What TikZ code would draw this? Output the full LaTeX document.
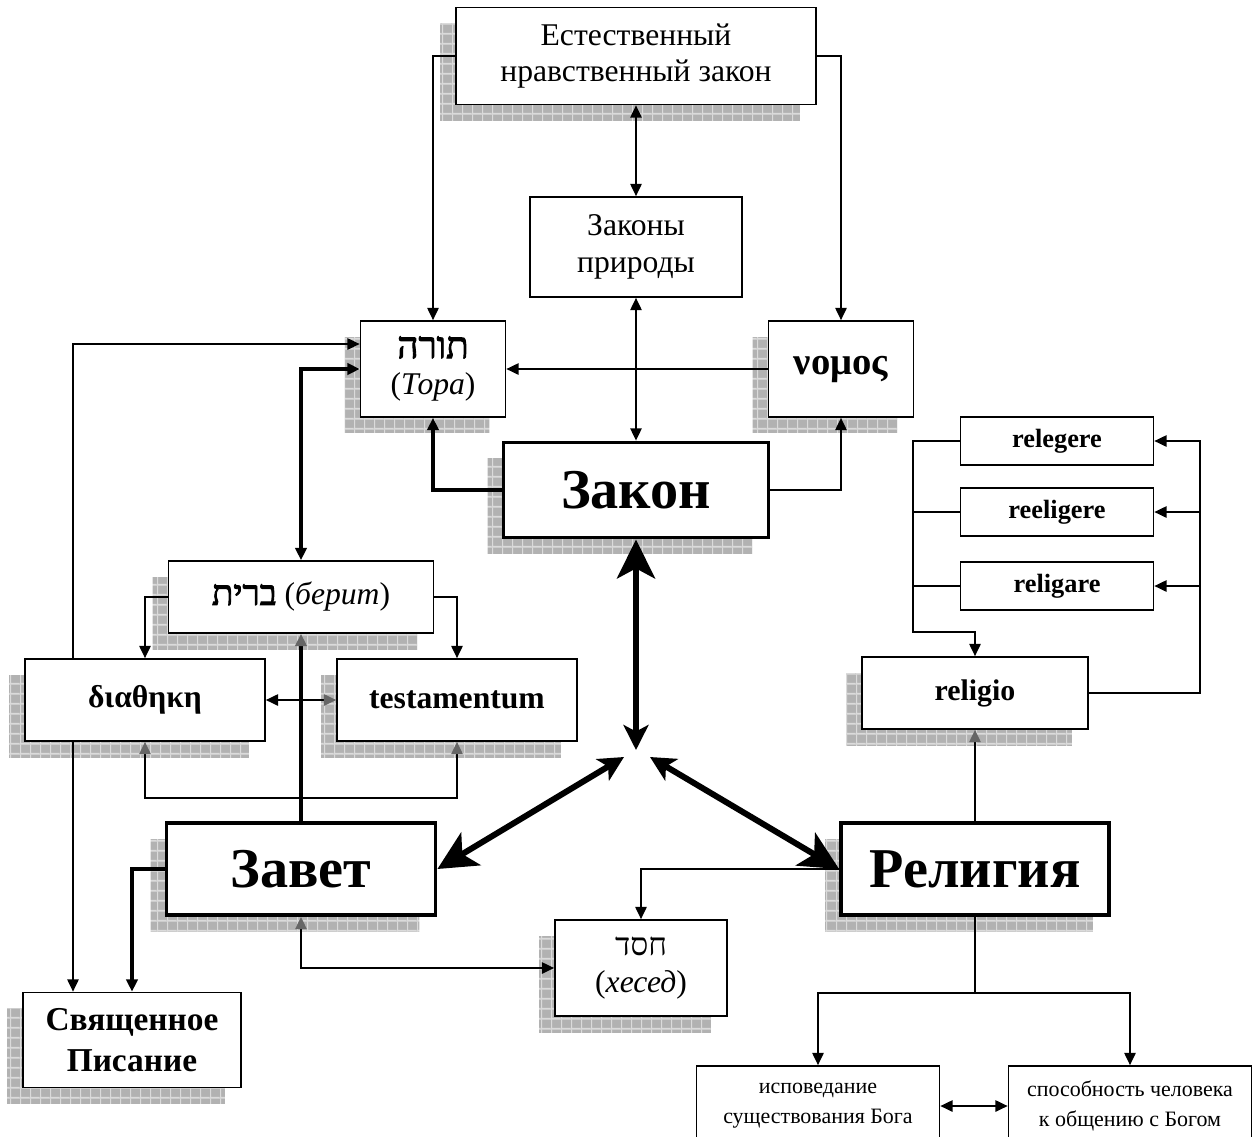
\documentclass[tikz,border=0pt]{standalone}
\usepackage{fontspec}
\setmainfont{Liberation Serif}
\newfontfamily\hebfont[Script=Hebrew]{Liberation Serif}
\newfontfamily\hebboldfont[Script=Hebrew,FakeBold=2.5]{Liberation Serif}
\TeXXeTstate=1
\usetikzlibrary{arrows.meta,shadows,patterns.meta,calc}

\newcommand{\hebtxt}[1]{{\hebfont\beginR #1\endR}}
\newcommand{\hebbold}[1]{{\hebboldfont\beginR #1\endR}}

\tikzdeclarepattern{
  name=shgrid,
  type=colored,
  bounding box={(0,0) and (5.6pt,5.6pt)},
  tile size={(5.6pt,5.6pt)},
  code={
    \fill[black!30] (0,0) rectangle (5.6pt,5.6pt);
    \draw[black!14,line width=0.6pt] (0,0.3pt) -- (5.6pt,0.3pt) (0.3pt,0) -- (0.3pt,5.6pt);
  }
}

\tikzset{
  >={Triangle[length=7pt,width=6.5pt]},
  gtip/.tip={Triangle[length=7pt,width=6.5pt,color=black!60]},
  bigtip/.tip={Stealth[length=0.78cm,width=0.76cm,inset=0.2cm]},
  smalltip/.tip={Stealth[length=0.5cm,width=0.5cm,inset=0.13cm]},
  box/.style={draw,line width=1pt,fill=white,align=center,inner sep=1pt,
    font=\fontsize{18}{21}\selectfont},
  shbox/.style={box,general shadow={shadow xshift=-0.32cm,shadow yshift=-0.32cm,pattern=shgrid}},
  mainbox/.style={shbox,line width=2.2pt,font=\fontsize{32}{36}\selectfont\bfseries},
  latbox/.style={box,font=\fontsize{15}{18}\selectfont\bfseries},
  conn/.style={line width=0.9pt},
  thickconn/.style={line width=2pt},
  bigarrow/.style={line width=3.4pt},
}

\begin{document}
\begin{tikzpicture}[x=0.02cm,y=-0.02cm]
\useasboundingbox (0,0) rectangle (1259,1137);

% upper part
\node[shbox,minimum width=7.2cm,minimum height=1.94cm] (natlaw) at (636,56)
  {Естественный\\нравственный закон};
\node[box,minimum width=4.24cm,minimum height=2cm] (natlaws) at (636,247)
  {Законы\\природы};
\node[shbox,minimum width=2.9cm,minimum height=1.92cm] (tora) at (433,369)
  {{\fontsize{21}{21}\selectfont\hebbold{תורה}}\\(\textit{Тора})};
\node[shbox,minimum width=2.9cm,minimum height=1.92cm,font=\fontsize{22}{26}\selectfont\bfseries]
  (nomos) at (841,369) {νομος};
\node[mainbox,minimum width=5.3cm,minimum height=1.9cm] (zakon) at (636,490) {Закон};

% religio group
\node[latbox,minimum width=3.86cm,minimum height=0.96cm] (relegere) at (1057,441) {relegere};
\node[latbox,minimum width=3.86cm,minimum height=0.96cm] (reeligere) at (1057,512) {reeligere};
\node[latbox,minimum width=3.86cm,minimum height=0.96cm] (religare) at (1057,586) {religare};
\node[shbox,minimum width=4.52cm,minimum height=1.44cm,font=\fontsize{17}{20}\selectfont\bfseries]
  (religio) at (975,693) {religio};

% covenant group
\node[shbox,minimum width=5.3cm,minimum height=1.44cm] (berit) at (301,597)
  {{\fontsize{20}{21}\selectfont\hebbold{ברית}} (\textit{берит})};
\node[shbox,minimum width=4.8cm,minimum height=1.64cm,font=\fontsize{18}{21}\selectfont\bfseries]
  (diatheke) at (145,700) {διαθηκη};
\node[shbox,minimum width=4.8cm,minimum height=1.64cm,font=\fontsize{18}{21}\selectfont\bfseries]
  (testament) at (457,700) {testamentum};
\node[mainbox,minimum width=5.38cm,minimum height=1.84cm] (zavet) at (301,869) {Завет};
\node[mainbox,minimum width=5.36cm,minimum height=1.84cm] (religia) at (975,869) {Религия};
\node[shbox,minimum width=3.44cm,minimum height=1.92cm] (hesed) at (641,968)
  {\hebtxt{חסד}\\(\textit{хесед})};
\node[shbox,minimum width=4.36cm,minimum height=1.9cm,font=\fontsize{19}{23}\selectfont\bfseries]
  (pisanie) at (132,1040) {Священное\\Писание};
\node[box,minimum width=4.86cm,minimum height=1.6cm,font=\fontsize{12.5}{17}\selectfont]
  (ispoved) at (818,1106) {исповедание\\существования Бога};
\node[box,minimum width=4.86cm,minimum height=1.6cm,font=\fontsize{12.5}{17}\selectfont]
  (sposob) at (1130,1106) {способность человека\\к общению с Богом};

% helper points
\coordinate (hubN) at (636,750);
\coordinate (hubL) at (624,757);
\coordinate (hubR) at (650,757);
\coordinate (rbus) at (1200,441);
\coordinate (lbus) at (913,632);
\coordinate (rjoin) at (975,993);
\coordinate (dleft) at ($(diatheke.south)+(-72,0)$);
\coordinate (dleftup) at ($(diatheke.north)+(-72,0)$);

% connectors, top
\draw[conn,->] (natlaw.west) -| (tora.north);
\draw[conn,->] (natlaw.east) -| (nomos.north);
\draw[conn,<->] (natlaw.south) -- (natlaws.north);
\draw[conn,<->] (natlaws.south) -- (zakon.north);
\draw[conn,->] (nomos.west) -- (tora.east);
\draw[thickconn,->] (zakon.west) -| (tora.south);
\draw[conn,->] (zakon.east) -| (nomos.south);

% connectors, left
\draw[conn,->] (dleftup) |- ($(tora.west)+(0,-25)$);
\draw[thickconn,<->] (berit.north) |- (tora.west);
\draw[conn,->] (berit.west) -| (diatheke.north);
\draw[conn,->] (berit.east) -| (testament.north);
\draw[conn,<-gtip] (diatheke.east) -- (testament.west);
\draw[conn,gtip-gtip] (diatheke.south) -- ++(0,56) -| (testament.south);
\draw[conn,->] (dleft) -- (dleft |- pisanie.north);
\draw[thickconn,-gtip] (zavet.north) -- (berit.south);
\draw[thickconn,->] (zavet.west) -| (pisanie.north);
\draw[conn,gtip->] (zavet.south) |- (hesed.west);

% connectors, right
\draw[conn,->] (religia.west) -| (hesed.north);
\draw[conn,-gtip] (religia.north) -- (religio.south);
\draw[conn] (religia.south) -- (rjoin);
\draw[conn,->] (rjoin) -| (ispoved.north);
\draw[conn,->] (rjoin) -| (sposob.north);
\draw[conn,<->] (ispoved.east) -- (sposob.west);
\draw[conn,->] (religio.east) -| (rbus) -- (relegere.east);
\draw[conn,->] (rbus |- reeligere.east) -- (reeligere.east);
\draw[conn,->] (rbus |- religare.east) -- (religare.east);
\draw[conn,->] (relegere.west) -| (lbus) -| (religio.north);
\draw[conn] (reeligere.west) -- (reeligere.west -| lbus);
\draw[conn] (religare.west) -- (religare.west -| lbus);

% the three big arrows
\draw[bigarrow,bigtip-smalltip] (zakon.south) -- (hubN);
\draw[bigarrow,smalltip-bigtip] (hubL) -- (zavet.east);
\draw[bigarrow,smalltip-bigtip] (hubR) -- (religia.west);
\end{tikzpicture}
\end{document}
